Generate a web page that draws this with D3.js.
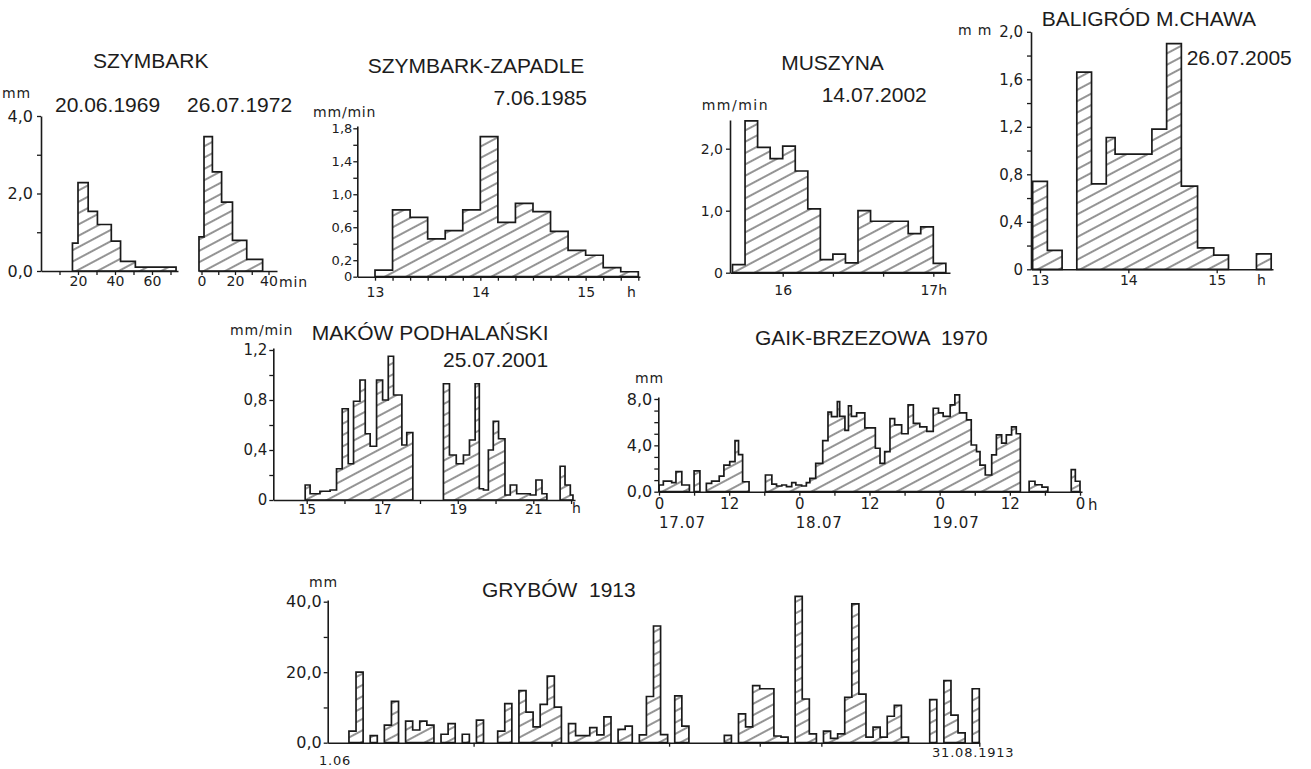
<!DOCTYPE html>
<html>
<head>
<meta charset="utf-8">
<script src="https://cdn.jsdelivr.net/npm/d3@7"></script>
<style>
body { margin: 0; background: #fff; }
svg text { fill: #1c1c1c; }
.t { font-family: "Liberation Sans", Arial, sans-serif; font-size: 21px; }
.u { font-family: "DejaVu Sans", sans-serif; font-size: 14px; letter-spacing: 0.8px; }
.ax text { font-family: "DejaVu Sans", sans-serif; }
</style>
</head>
<body>
<svg id="chart" width="1311" height="769"></svg>
<script>
// SZYMBARK 20.06.1969 and 26.07.1972 (mm, x in min)
var szy1969Edges = [17, 20, 25.5, 30.5, 38, 43, 51, 73];
var szy1969Vals = [0.72, 2.28, 1.54, 1.2, 0.77, 0.25, 0.1];
var szy1972Edges = [-1.5, 1.5, 6.5, 12, 18.5, 27, 36.5];
var szy1972Vals = [0.88, 3.47, 2.56, 1.78, 0.79, 0.3];

// SZYMBARK-ZAPADLE 7.06.1985 (mm/min), minutes after 13:00
var zapEdges = [0, 10, 20, 30, 40, 50, 60, 70, 80, 90, 100, 110, 120, 130, 140, 150];
var zapVals = [0.08, 0.81, 0.72, 0.46, 0.56, 0.81, 1.7, 0.66, 0.89, 0.79, 0.55, 0.32, 0.26, 0.11, 0.06];

// MUSZYNA 14.07.2002 (mm/min), minutes after 15:00
var musEdges = [40, 45, 50, 55, 60, 65, 70, 75, 80, 85, 90, 95, 100, 105, 110, 115, 120, 125];
var musVals = [0.13, 2.45, 2.02, 1.84, 2.04, 1.64, 1.03, 0.21, 0.3, 0.16, 1.0, 0.83, 0.83, 0.83, 0.63, 0.74, 0.15];

// BALIGRÓD M.CHAWA 26.07.2005 (mm), minutes after 13:00
var balEdges = [-5, 5, 15, 25, 35, 45, 51, 76, 86, 96, 107, 118, 128, 147, 157];
var balVals = [0.74, 0.16, null, 1.66, 0.72, 1.11, 0.97, 1.18, 1.9, 0.7, 0.18, 0.12, null, 0.13];

// MAKÓW PODHALAŃSKI 25.07.2001 (mm/min), hours
var makEdges = [14.96, 15.09, 15.35, 15.62, 15.79, 15.94, 16.10, 16.24, 16.41, 16.55,
  16.68, 16.85, 17.01, 17.16, 17.30, 17.52, 17.65, 17.81, 18.62, 18.78,
  18.96, 19.15, 19.31, 19.46, 19.57, 19.68, 19.81, 19.94, 20.08, 20.25,
  20.39, 20.56, 20.92, 21.07, 21.23, 21.36, 21.71, 21.84, 21.98, 22.05];
var makVals = [0.12, 0.05, 0.07, 0.08, 0.25, 0.73, 0.29, 0.79, 0.96, 0.53,
  0.43, 0.96, 0.80, 1.15, 0.84, 0.44, 0.54, null, 0.93, 0.36,
  0.29, 0.36, 0.48, 0.93, 0.09, 0.08, 0.40, 0.63, 0.49, 0.04,
  0.12, 0.05, 0.04, 0.16, 0.05, null, 0.27, 0.12, 0.04];

// GAIK-BRZEZOWA 1970 (mm), hours from 17.07 0h
var gaikEdges = [0, 0.74, 2.17, 2.9, 3.9, 5.2, 6.0, 7.0, 8.1, 9.0,
  10.3, 11.1, 12.1, 13.0, 13.6, 14.3, 15.4, 18.2, 19.3, 20.1,
  21.0, 21.8, 22.7, 23.4, 24.4, 25.2, 25.8, 26.8, 28.0, 28.9,
  29.5, 30.5, 30.9, 31.8, 32.4, 32.9, 33.8, 35.2, 37.0, 37.8,
  38.6, 39.5, 40.3, 41.5, 42.6, 43.5, 44.6, 45.8, 46.9, 47.8,
  48.6, 49.8, 50.6, 51.4, 52.6, 53.4, 54.3, 54.9, 55.8, 56.9,
  57.7, 58.6, 59.4, 60.3, 61.1, 61.8, 63.3, 64.3, 65.5, 66.5,
  70.5, 71.2, 72.0];
var gaikVals = [0.58, 0.92, 0.78, 1.73, 0.58, null, 1.8, null, 0.72, 0.92,
  1.35, 2.3, 2.6, 4.4, 3.2, 0.86, null, 1.44, 0.66, 0.49,
  0.58, 0.43, 0.78, 0.58, 0.49, 0.78, 1.15, 2.45, 4.4, 6.86,
  6.48, 7.78, 6.5, 5.3, 7.4, 6.5, 6.8, 5.5, 3.75, 2.45,
  3.46, 6.3, 5.76, 5.0, 7.5, 5.9, 5.6, 5.2, 7.2, 6.8,
  6.5, 7.5, 8.35, 6.8, 6.2, 4.03, 3.46, 2.3, 1.44, 3.17,
  4.9, 4.2, 4.9, 5.6, 5.0, null, 0.9, 0.6, 0.4, null,
  1.9, 0.9];
var gaikDays = ['17.07', '18.07', '19.07'];
var gaikDayAt = [4, 27.4, 50.8];

// GRYBÓW 1913 (mm), daily sums 1.06 - 31.08
var grybowVals = [null, null, null, 3.3, 20, null, 2, null, 5, 11.7,
  null, 6.1, 3.6, 6.1, 5, null, 2.4, 5.4, null, 2.4,
  null, 6.4, null, null, 3.3, 11.1, null, 14.8, 8.7, 4.5,
  10.9, 18.9, 10.1, null, 5.4, 2, 2, 4.3, 2.2, 7.3,
  null, 3.8, 4.7, null, 2.2, 13.1, 33.1, 2.3, null, 13.3,
  4.7, null, null, null, null, null, 2.1, null, 8.2, 4.5,
  16.2, 15.3, 15.3, 1.9, 1.6, null, 41.5, 12.4, 2.5, null,
  3.3, 1.2, 2.5, 12.9, 39.4, 13.8, 1.6, 4.4, 1.6, 7.5,
  10.6, 1.6, null, null, null, 12.2, null, 17.6, 7.8, 2.8,
  null, 15.3];
var grybowTicks = [20.6, 31.6, 48.2, 61, 69.7, 92];

var svg = d3.select('#chart');
var ink = '#1a1a1a';

svg.append('defs').append('pattern').attr('id', 'hatch').attr('patternUnits', 'userSpaceOnUse')
    .attr('width', 20).attr('height', 10).attr('patternTransform', 'rotate(-28)')
    .append('line').attr('x1', 0).attr('y1', 5).attr('x2', 20).attr('y2', 5)
    .attr('stroke', '#2a2a2a').attr('stroke-width', 1);

// linear scale through two reference points, spanning the axis from a to b
function lin(d0, p0, d1, p1, a, b) {
    var s = d3.scaleLinear().domain([d0, d1]).range([p0, p1]);
    return s.domain([s.invert(a), s.invert(b)]).range([a, b]);
}

function bars(x, y, edges, vals) {
    var pts = [];
    vals.forEach(function (v, i) {
        if (v == null) return;
        pts.push({t: edges[i], v: v});
        if (i == vals.length - 1 || vals[i + 1] == null) {
            pts.push({t: edges[i + 1], v: v});
            pts.push({t: edges[i + 1], v: null});
        }
    });
    var area = d3.area().defined(function (d) { return d.v != null; })
        .curve(d3.curveStepAfter)
        .x(function (d) { return x(d.t); })
        .y0(y(0)).y1(function (d) { return y(d.v); });
    svg.append('path').attr('d', area(pts)).attr('fill', 'url(#hatch)')
        .attr('stroke', ink).attr('stroke-width', 1.7).attr('stroke-linejoin', 'miter');
}

function axis(gen, tx, ty, pad, fs) {
    var g = svg.append('g').attr('class', 'ax').attr('transform', 'translate(' + tx + ',' + ty + ')')
        .call(gen.tickSize(4).tickSizeOuter(0).tickPadding(pad));
    g.select('.domain').attr('stroke', ink).attr('stroke-width', 1.6);
    g.selectAll('.tick line').attr('stroke', ink).attr('stroke-width', 1.3);
    g.selectAll('text').style('font-size', fs + 'px');
    return g;
}

function dec(d) { return d === 0 ? '0' : d.toFixed(1).replace('.', ','); }
function dec0(d) { return d.toFixed(1).replace('.', ','); }
function only(list, f) { return function (d) { return list.indexOf(d) < 0 ? '' : f(d); }; }

function txt(x, y, s, cls, anchor) {
    return svg.append('text').attr('x', x).attr('y', y).attr('class', cls)
        .attr('text-anchor', anchor || 'start').style('white-space', 'pre').text(s);
}

// SZYMBARK
var y1 = lin(0, 271, 4, 116, 271, 116);
var x1a = lin(0, 41, 20, 78, 41, 178);
var x1b = lin(0, 201.5, 40, 268.5, 199, 277);
bars(x1a, y1, szy1969Edges, szy1969Vals);
bars(x1b, y1, szy1972Edges, szy1972Vals);
axis(d3.axisBottom(x1a).tickValues([10, 20, 30, 40, 50, 60, 70]).tickFormat(only([20, 40, 60], String)), 0, 271, 1, 14);
axis(d3.axisBottom(x1b).tickValues([0, 10, 20, 30, 40]).tickFormat(only([0, 20, 40], String)), 0, 271, 1, 14);
axis(d3.axisLeft(y1).tickValues([0, 1, 2, 3, 4]).tickFormat(only([0, 2, 4], dec0)), 41, 0, 4, 16);
txt(150.7, 68, 'SZYMBARK', 't', 'middle');
txt(2, 98, 'mm', 'u');
txt(55, 112, '20.06.1969', 't');
txt(187, 112, '26.07.1972', 't');
txt(279, 287, 'min', 'u');

// SZYMBARK-ZAPADLE
var x2 = lin(0, 375, 150, 638.3, 357.3, 640);
var y2 = lin(0, 276.7, 1.8, 128.3, 276.7, 126);
bars(x2, y2, zapEdges, zapVals);
axis(d3.axisBottom(x2).tickValues(zapEdges).tickFormat(only([0, 60, 120], function (d) { return String(13 + d / 60); })), 0, 276.7, 6, 14);
axis(d3.axisLeft(y2).tickValues([0, 0.2, 0.4, 0.6, 0.8, 1.0, 1.2, 1.4, 1.6, 1.8])
    .tickFormat(only([0, 0.2, 0.6, 1.0, 1.4, 1.8], dec)), 357.3, 0, 1, 13);
txt(476, 73, 'SZYMBARK-ZAPADLE', 't', 'middle');
txt(587, 105, '7.06.1985', 't', 'end');
txt(313, 117, 'mm/min', 'u');
txt(627, 297, 'h', 'u');

// MUSZYNA
var x3 = lin(60, 782.7, 120, 933.3, 730, 950);
var y3 = lin(0, 272.7, 1, 210.7, 272.7, 120);
bars(x3, y3, musEdges, musVals);
axis(d3.axisBottom(x3).tickValues([60, 80, 100, 120]).tickFormat(only([60, 120], function (d) { return d == 60 ? '16' : '17h'; })), 0, 272.7, 8, 14);
axis(d3.axisLeft(y3).tickValues([0, 1, 2]).tickFormat(dec), 730, 0, 3, 14);
txt(832.5, 70, 'MUSZYNA', 't', 'middle');
txt(821.7, 101.7, '14.07.2002', 't');
txt(701.7, 110, 'mm/min', 'u').style('letter-spacing', '1.5px');

// BALIGRÓD M.CHAWA
var x4 = lin(0, 1040, 120, 1216.7, 1031, 1273);
var y4 = lin(0, 269.3, 2, 31.8, 269.3, 31.8);
bars(x4, y4, balEdges, balVals);
axis(d3.axisBottom(x4).tickValues([0, 60, 120]).tickFormat(function (d) { return String(13 + d / 60); }), 0, 269.3, 2, 14);
axis(d3.axisLeft(y4).tickValues([0, 0.2, 0.4, 0.6, 0.8, 1.0, 1.2, 1.4, 1.6, 1.8, 2.0])
    .tickFormat(only([0, 0.4, 0.8, 1.2, 1.6, 2.0], dec)), 1031, 0, 4, 15);
txt(1041.7, 26, 'BALIGRÓD M.CHAWA', 't');
txt(1186.7, 65, '26.07.2005', 't');
txt(958, 35, 'm m', 'u');
txt(1257, 285, 'h', 'u');

// MAKÓW PODHALAŃSKI
var x5 = lin(15, 306.7, 21, 533.3, 273.3, 575);
var y5 = lin(0, 500, 1.2, 350, 500, 348);
bars(x5, y5, makEdges, makVals);
axis(d3.axisBottom(x5).tickValues([15, 16, 17, 18, 19, 20, 21, 22]).tickFormat(only([15, 17, 19, 21], String)), 0, 500, 0, 14);
axis(d3.axisLeft(y5).tickValues([0, 0.2, 0.4, 0.6, 0.8, 1.0, 1.2])
    .tickFormat(only([0, 0.4, 0.8, 1.2], dec)), 273.3, 0, 2, 15);
txt(230, 335, 'mm/min', 'u');
txt(311.7, 340, 'MAKÓW PODHALAŃSKI', 't');
txt(443, 366.7, '25.07.2001', 't');
txt(572, 513, 'h', 'u');

// GAIK-BRZEZOWA
var x6 = lin(0, 659, 72, 1080, 658.3, 1082);
var y6 = lin(0, 491.7, 8, 399, 491.7, 397);
bars(x6, y6, gaikEdges, gaikVals);
axis(d3.axisBottom(x6).tickValues([0, 6, 12, 18, 24, 30, 36, 42, 48, 54, 60, 66, 72])
    .tickFormat(function (d) { return d % 12 ? '' : String(d % 24); }), 0, 491.7, 3, 15);
axis(d3.axisLeft(y6).tickValues([0, 1, 2, 3, 4, 5, 6, 7, 8]).tickFormat(only([0, 4, 8], dec0)), 658.3, 0, 2, 16);
txt(635, 383, 'mm', 'u');
txt(755, 345, 'GAIK-BRZEZOWA  1970', 't');
txt(1088, 510, 'h', 'u').style('font-size', '15px');
gaikDays.forEach(function (s, i) {
    txt(x6(gaikDayAt[i]), 528, s, 'u', 'middle').style('font-size', '15px');
});

// GRYBÓW
var x7 = lin(0, 327.7, 92, 979.3, 327.7, 979.3);
var y7 = lin(0, 742.7, 40, 601.7, 742.7, 600);
bars(x7, y7, d3.range(grybowVals.length + 1), grybowVals);
axis(d3.axisBottom(x7).tickValues(grybowTicks).tickFormat(''), 0, 742.7, 2, 13);
axis(d3.axisLeft(y7).tickValues([0, 10, 20, 30, 40]).tickFormat(only([0, 20, 40], dec0)), 327.7, 0, 2, 16);
txt(309, 587, 'mm', 'u');
txt(482, 597, 'GRYBÓW  1913', 't');
txt(335, 765, '1.06', 'u', 'middle').style('font-size', '13px');
txt(932, 757, '31.08.1913', 'u').style('font-size', '13px');
</script>
</body>
</html>
